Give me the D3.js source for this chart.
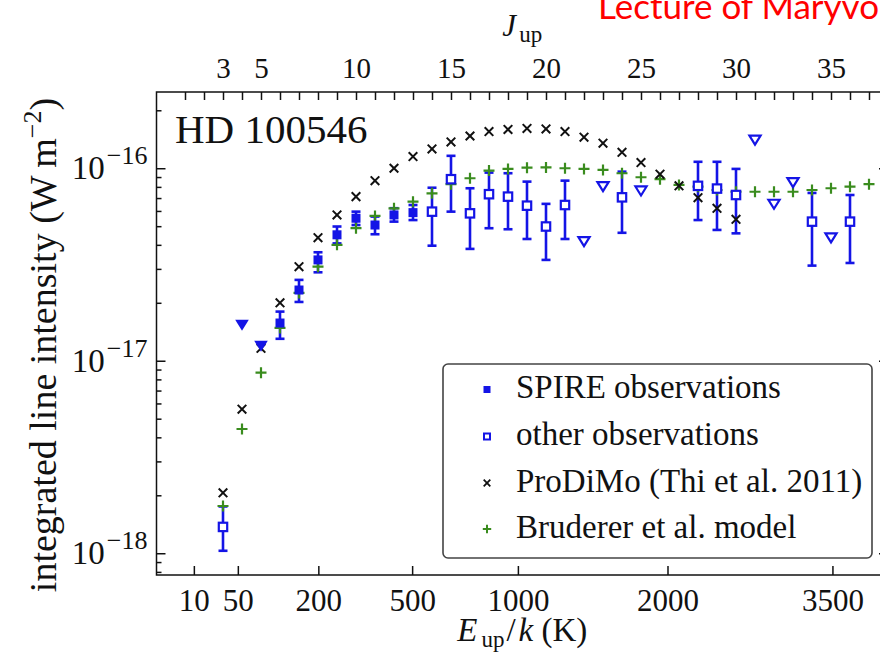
<!DOCTYPE html>
<html>
<head>
<meta charset="utf-8">
<script src="https://cdn.jsdelivr.net/npm/d3@7"></script>
<style>
  body { margin: 0; background: #fff; }
  svg { display: block; }
  text { font-family: "Liberation Serif", "Times New Roman", serif; fill: #111; }
</style>
</head>
<body>
<svg id="chart" width="880" height="659"></svg>
<script>
// ---------------- data ----------------
// SPIRE observations (filled squares) with error bars
const spireJ   = [6, 7, 8, 9, 10, 11, 12, 13];
const spireVal = [1.57e-17, 2.33e-17, 3.34e-17, 4.51e-17, 5.50e-17, 5.07e-17, 5.72e-17, 5.88e-17];
const spireLo  = [1.30e-17, 2.02e-17, 2.88e-17, 4.07e-17, 5.07e-17, 4.54e-17, 5.28e-17, 5.38e-17];
const spireHi  = [1.80e-17, 2.63e-17, 3.66e-17, 4.98e-17, 5.95e-17, 5.61e-17, 6.20e-17, 6.44e-17];
// SPIRE upper limits (filled down triangles)
const spireUlJ = [4, 5];
const spireUl  = [1.53e-17, 1.19e-17];

// other observations (open squares) with error bars
const otherJ   = [3, 14, 15, 16, 17, 18, 19, 20, 21, 24, 28, 29, 30, 34, 36];
const otherVal = [1.37e-18, 5.95e-17, 8.77e-17, 5.83e-17, 7.33e-17, 7.12e-17, 6.39e-17, 4.98e-17, 6.44e-17, 7.06e-17, 8.10e-17, 7.84e-17, 7.26e-17, 5.28e-17, 5.28e-17];
const otherLo  = [1.03e-18, 3.96e-17, 5.95e-17, 3.81e-17, 4.88e-17, 4.82e-17, 4.29e-17, 3.34e-17, 4.29e-17, 4.62e-17, 5.38e-17, 4.78e-17, 4.59e-17, 3.12e-17, 3.22e-17];
const otherHi  = [1.75e-18, 7.92e-17, 1.16e-16, 7.87e-17, 9.49e-17, 9.42e-17, 8.52e-17, 6.53e-17, 8.62e-17, 9.60e-17, 1.08e-16, 1.08e-16, 9.92e-17, 7.44e-17, 7.26e-17];
// other upper limits (open down triangles)
const otherUlJ = [22, 23, 25, 31, 32, 33, 35];
const otherUl  = [4.16e-17, 8.02e-17, 7.62e-17, 1.40e-16, 6.50e-17, 8.42e-17, 4.35e-17];

// ProDiMo model (black x)
const prodimoJ = [3, 4, 5, 6, 7, 8, 9, 10, 11, 12, 13, 14, 15, 16, 17, 18, 19, 20, 21, 22, 23, 24, 25, 26, 27, 28, 29, 30];
const prodimoVal = [2.06e-18, 5.60e-18, 1.16e-17, 2.00e-17, 3.08e-17, 4.36e-17, 5.72e-17, 7.12e-17, 8.62e-17, 1.00e-16,
                    1.15e-16, 1.26e-16, 1.37e-16, 1.47e-16, 1.55e-16, 1.59e-16, 1.61e-16, 1.60e-16, 1.55e-16, 1.45e-16,
                    1.35e-16, 1.21e-16, 1.07e-16, 9.31e-17, 8.10e-17, 7.03e-17, 6.19e-17, 5.43e-17];

// Bruderer et al. model (green +)
const brudJ = [3, 4, 5, 6, 7, 8, 9, 10, 11, 12, 13, 14, 15, 16, 17, 18, 19, 20, 21, 22, 23, 24, 25, 26, 27, 28, 29, 30, 31, 32, 33, 34, 35, 36, 37];
const brudVal = [1.76e-18, 4.42e-18, 8.67e-18, 1.48e-17, 2.25e-17, 3.08e-17, 4.00e-17, 4.88e-17, 5.65e-17, 6.19e-17,
                 6.70e-17, 7.41e-17, 8.26e-17, 8.87e-17, 9.72e-17, 9.92e-17, 1.007e-16, 1.01e-16, 1.00e-16, 9.92e-17,
                 9.80e-17, 9.42e-17, 8.98e-17, 8.77e-17, 8.19e-17, 8.02e-17, 7.71e-17, 7.55e-17, 7.55e-17, 7.55e-17,
                 7.55e-17, 7.71e-17, 7.87e-17, 8.02e-17, 8.26e-17];

// axis ticks
const topTickJ    = d3.range(1, 38);
const topLabelJ   = [3, 5, 10, 15, 20, 25, 30, 35];
const bottomTickE = [10, 50, 200, 500, 1000, 2000, 3500];
const yMajor      = [1e-18, 1e-17, 1e-16];

const legendLabels = ["SPIRE observations", "other observations", "ProDiMo (Thi et al. 2011)", "Bruderer et al. model"];

// ---------------- layout ----------------
const BLUE = "#1414e6", GREEN = "#3a8c1e", BLACK = "#111";
const L = 156.5, R = 888, T = 92, B = 575;
const svg = d3.select("#chart");

const x = d3.scaleLinear().domain([-0.5, 38]).range([L, R]);
const y = d3.scaleLog().domain([Math.pow(10, -18.113), Math.pow(10, -15.604)]).range([B, T]);
// CO rotational ladder: E_up/k = B J (J+1), B = 2.766 K
const JofE = E => (-1 + Math.sqrt(1 + 4 * E / 2.766)) / 2;

// red slide header (cut by the right edge, as in the reference)
svg.append("text").attr("x", 598).attr("y", 19)
  .style("font-family", "Lato, 'Open Sans', sans-serif").style("font-size", "35px").style("fill", "#ff0000")
  .text("Lecture of Maryvonne");

// frame
svg.append("rect").attr("x", L).attr("y", T).attr("width", R - L).attr("height", B - T)
  .attr("fill", "none").attr("stroke", "#111").attr("stroke-width", 1.5);

// top axis (J_up)
const topAxis = d3.axisTop(x).tickValues(topTickJ).tickSize(-8).tickPadding(14)
  .tickFormat(d => topLabelJ.includes(d) ? String(d) : "");
const gTop = svg.append("g").attr("transform", `translate(0,${T})`).call(topAxis);
gTop.select(".domain").remove();
gTop.selectAll("line").attr("stroke", "#111").attr("stroke-width", 1.5);
gTop.selectAll("text").style("font-size", "29px").style("font-family", "Liberation Serif, serif").attr("fill", "#111");

// bottom axis (E_up/k)
const botAxis = d3.axisBottom(x).tickValues(bottomTickE.map(JofE)).tickSize(-9).tickPadding(14)
  .tickFormat((d, i) => String(bottomTickE[i]));
const gBot = svg.append("g").attr("transform", `translate(0,${B})`).call(botAxis);
gBot.select(".domain").remove();
gBot.selectAll("line").attr("stroke", "#111").attr("stroke-width", 1.5);
gBot.selectAll("text").style("font-size", "31px").style("font-family", "Liberation Serif, serif").attr("fill", "#111");

// y axes (log)
const yMinor = [];
for (let e = -19; e <= -16; e++) for (let m = 2; m <= 9; m++) {
  const v = m * Math.pow(10, e);
  if (v >= y.domain()[0] && v <= y.domain()[1]) yMinor.push(v);
}
function styleAxis(g) {
  g.select(".domain").remove();
  g.selectAll("line").attr("stroke", "#111").attr("stroke-width", 1.5);
}
const gLmin = svg.append("g").attr("transform", `translate(${L},0)`)
  .call(d3.axisLeft(y).tickValues(yMinor).tickSize(-5).tickFormat(""));
styleAxis(gLmin);
const gRmin = svg.append("g").attr("transform", `translate(${R},0)`)
  .call(d3.axisRight(y).tickValues(yMinor).tickSize(-5).tickFormat(""));
styleAxis(gRmin);
const gRmaj = svg.append("g").attr("transform", `translate(${R},0)`)
  .call(d3.axisRight(y).tickValues(yMajor).tickSize(-9).tickFormat(""));
styleAxis(gRmaj);
const gLmaj = svg.append("g").attr("transform", `translate(${L},0)`)
  .call(d3.axisLeft(y).tickValues(yMajor).tickSize(-9).tickPadding(9).tickFormat(""));
styleAxis(gLmaj);
gLmaj.selectAll(".tick text").each(function(d) {
  const t = d3.select(this).text(null).attr("fill", "#111").style("font-size", "33px")
    .style("font-family", "Liberation Serif, serif");
  t.append("tspan").text("10");
  t.append("tspan").attr("dy", "-15").attr("dx", 2).style("font-size", "26px").text("\u2212" + Math.round(-Math.log10(d)));
});

// axis titles
const jt = svg.append("text").attr("x", (L + R) / 2).attr("y", 36).attr("text-anchor", "middle").style("font-size", "31px");
jt.append("tspan").style("font-style", "italic").text("J");
jt.append("tspan").attr("dy", 6).attr("dx", 3).style("font-size", "23px").text("up");

const et = svg.append("text").attr("x", (L + R) / 2).attr("y", 641).attr("text-anchor", "middle").style("font-size", "33px");
et.append("tspan").style("font-style", "italic").text("E");
et.append("tspan").attr("dy", 6).attr("dx", 4).style("font-size", "23px").text("up");
et.append("tspan").attr("dy", -6).attr("dx", 2).text("/");
et.append("tspan").attr("dx", 3).style("font-style", "italic").text("k");
et.append("tspan").text("\u00a0(K)");

const yt = svg.append("text").attr("transform", `translate(56,345) rotate(-90)`)
  .attr("text-anchor", "middle").style("font-size", "38px");
yt.append("tspan").text("integrated line intensity (W\u2009m");
yt.append("tspan").attr("dy", -15).style("font-size", "26px").text("\u22122");
yt.append("tspan").attr("dy", 15).text(")");

svg.append("text").attr("x", 175).attr("y", 143).style("font-size", "41px").text("HD 100546");

// ---------------- marks ----------------
const plot = svg.append("g");
const crossPath = s => `M${-s},${-s}L${s},${s}M${-s},${s}L${s},${-s}`;
const plusPath = s => `M${-s},0L${s},0M0,${-s}L0,${s}`;
const triPath = (w, h) => `M${-w},${-h / 2}L${w},${-h / 2}L0,${h / 2}Z`;

// error bars
function errBars(J, lo, hi) {
  const g = plot.append("g").attr("stroke", BLUE).attr("stroke-width", 2.6).attr("fill", "none");
  J.forEach((j, i) => {
    const cx = x(j), y0 = y(lo[i]), y1 = y(hi[i]);
    g.append("line").attr("x1", cx).attr("x2", cx).attr("y1", y0).attr("y2", y1);
    g.append("line").attr("x1", cx - 4.5).attr("x2", cx + 4.5).attr("y1", y0).attr("y2", y0);
    g.append("line").attr("x1", cx - 4.5).attr("x2", cx + 4.5).attr("y1", y1).attr("y2", y1);
  });
}
errBars(spireJ, spireLo, spireHi);
errBars(otherJ, otherLo, otherHi);

// Bruderer (+)
plot.append("g").selectAll("path").data(brudJ).join("path")
  .attr("transform", (d, i) => `translate(${x(d)},${y(brudVal[i])})`)
  .attr("d", plusPath(5.5)).attr("stroke", GREEN).attr("stroke-width", 2.2).attr("fill", "none");

// ProDiMo (x)
plot.append("g").selectAll("path").data(prodimoJ).join("path")
  .attr("transform", (d, i) => `translate(${x(d)},${y(prodimoVal[i])})`)
  .attr("d", crossPath(4.3)).attr("stroke", BLACK).attr("stroke-width", 2).attr("fill", "none");

// SPIRE squares
plot.append("g").selectAll("rect").data(spireJ).join("rect")
  .attr("x", d => x(d) - 4.5).attr("y", (d, i) => y(spireVal[i]) - 4.5)
  .attr("width", 9).attr("height", 9).attr("fill", BLUE);

// other squares (open)
plot.append("g").selectAll("rect").data(otherJ).join("rect")
  .attr("x", d => x(d) - 4.2).attr("y", (d, i) => y(otherVal[i]) - 4.2)
  .attr("width", 8.4).attr("height", 8.4).attr("fill", "#fff").attr("stroke", BLUE).attr("stroke-width", 2.2);

// upper limits
plot.append("g").selectAll("path").data(spireUlJ).join("path")
  .attr("transform", (d, i) => `translate(${x(d)},${y(spireUl[i])})`)
  .attr("d", triPath(6.8, 11)).attr("fill", BLUE);
plot.append("g").selectAll("path").data(otherUlJ).join("path")
  .attr("transform", (d, i) => `translate(${x(d)},${y(otherUl[i])})`)
  .attr("d", triPath(5.6, 9)).attr("fill", "#fff").attr("stroke", BLUE).attr("stroke-width", 2.2);

// ---------------- legend ----------------
const lg = svg.append("g");
lg.append("rect").attr("x", 443).attr("y", 364).attr("width", 429).attr("height", 194).attr("rx", 5)
  .attr("fill", "#fff").attr("stroke", "#444").attr("stroke-width", 1.6);
const rowY = [398, 445, 492, 538];
const mx = 487;
lg.append("rect").attr("x", mx - 3.5).attr("y", rowY[0] - 12).attr("width", 7).attr("height", 7).attr("fill", BLUE);
lg.append("rect").attr("x", mx - 3).attr("y", rowY[1] - 11.5).attr("width", 6).attr("height", 6)
  .attr("fill", "#fff").attr("stroke", BLUE).attr("stroke-width", 2);
lg.append("path").attr("transform", `translate(${mx},${rowY[2] - 9})`).attr("d", crossPath(3.3))
  .attr("stroke", BLACK).attr("stroke-width", 1.8);
lg.append("path").attr("transform", `translate(${mx},${rowY[3] - 9})`).attr("d", plusPath(4.2))
  .attr("stroke", GREEN).attr("stroke-width", 2);
lg.selectAll("text.lab").data(legendLabels).join("text").attr("class", "lab")
  .attr("x", 516).attr("y", (d, i) => rowY[i]).style("font-size", "33px").text(d => d);
</script>
</body>
</html>
